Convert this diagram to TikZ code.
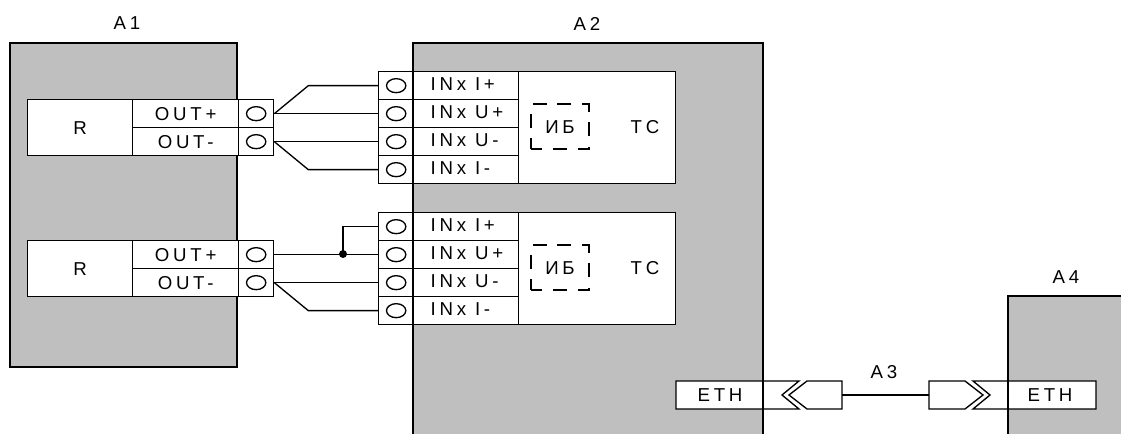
\documentclass[tikz,border=0pt]{standalone}
\usepackage{fontspec}
\setmainfont{Liberation Sans}[LetterSpace=20]
\usepackage{xcolor}
\usetikzlibrary{shapes.geometric}
\definecolor{dev}{HTML}{BFBFBF}
\tikzset{
	cell/.style={draw,fill=white,anchor=north west,inner sep=0pt,minimum height=21pt},
	hole/.style={draw,ellipse,inner sep=0pt,minimum width=14.5pt,minimum height=10.5pt},
	ib/.style={draw,line width=1.5pt,dash pattern=on 10.5pt off 8.06pt,dash phase=2.25pt,minimum width=43.5pt,minimum height=33.75pt,inner sep=0pt},
	lbl/.style={inner sep=0pt}
}
\begin{document}
\begin{tikzpicture}[x=0.75pt,y=-0.75pt,line width=1pt,font=\fontsize{14pt}{16pt}\selectfont]
	\useasboundingbox (0,0) rectangle (1121,434);
	%devices
	\fill[dev] (10,43) rectangle (237,367);
	\draw (10,43) rectangle (237,367);
	\fill[dev] (413,43) rectangle (763,434);
	\fill[dev] (1008,296) rectangle (1121,434);
	\node[lbl] (a1) at (127,23) {A1};
	\node[lbl] (a2) at (587,24) {A2};
	\node[lbl] (a3) at (884,372) {A3};
	\node[lbl] (a4) at (1066,277) {A4};
	%outputs
	\foreach \y [count=\ii from 1] in {99,240}{
		\node[cell,minimum width=78.75pt,minimum height=42pt] (r\ii) at (27,\y) {R};
		\node[cell,minimum width=79.5pt] (outp\ii) at (132,\y) {OUT+};
		\node[cell,minimum width=79.5pt] (outm\ii) at (132,\y+28) {OUT-};
		\node[cell,minimum width=26.25pt] (top\ii) at (238,\y) {};
		\node[cell,minimum width=26.25pt] (tom\ii) at (238,\y+28) {};
		\node[hole] (hp\ii) at (top\ii.center) {};
		\node[hole] (hm\ii) at (tom\ii.center) {};
	}
	%inputs
	\foreach \y [count=\ii from 1] in {71,212}{
		\foreach \t [count=\k from 1] in {I+,U+,U-,I-}{
			\node[cell,minimum width=26.25pt] (ti\ii\k) at (378,\y+28*\k-28) {};
			\node[hole] (hi\ii\k) at (ti\ii\k.center) {};
			\node[cell,minimum width=78.75pt] (in\ii\k) at (413,\y+28*\k-28) {};
			\node[lbl,anchor=base west] (int\ii\k) at (430,\y+28*\k-8) {INx \t};
		}
		\node[cell,minimum width=117.75pt,minimum height=84pt] (tc\ii) at (518,\y) {};
		\node[ib] (ib\ii) at (560,\y+56) {ИБ};
		\node[lbl] (tct\ii) at (645,\y+56) {ТС};
	}
	%wires
	\draw (top1.east) -- ++(34,-28) -- (ti11.west);
	\draw (top1.east) -- (ti12.west);
	\draw (tom1.east) -- (ti13.west);
	\draw (tom1.east) -- ++(34,28) -- (ti14.west);
	\draw (top2.east) -- (ti22.west);
	\draw (tom2.east) -- (ti23.west);
	\draw (tom2.east) -- ++(34,28) -- (ti24.west);
	\coordinate (jn) at (343,254);
	\draw (jn) |- (ti21.west);
	\fill (jn) circle (4);
	%ethernet
	\filldraw[fill=white] (676,381) -- (799,381) -- (782,395) -- (799,409) -- (676,409) -- cycle;
	\filldraw[fill=white] (1096,381) -- (973,381) -- (990,395) -- (973,409) -- (1096,409) -- cycle;
	\node[lbl] (eth1) at (720,395) {ETH};
	\node[lbl] (eth2) at (1050,395) {ETH};
	\coordinate (pl) at (842,395);
	\coordinate (pr) at (929,395);
	\draw (789,395) -- (807,381) -- (842,381) -- (842,409) -- (807,409) -- cycle;
	\draw (983,395) -- (965,381) -- (929,381) -- (929,409) -- (965,409) -- cycle;
	\draw (pl) -- (pr);
	%device edges on top
	\draw (413,434) -- (413,43) -- (763,43) -- (763,434);
	\draw (1008,434) -- (1008,296) -- (1121,296);
\end{tikzpicture}
\end{document}
